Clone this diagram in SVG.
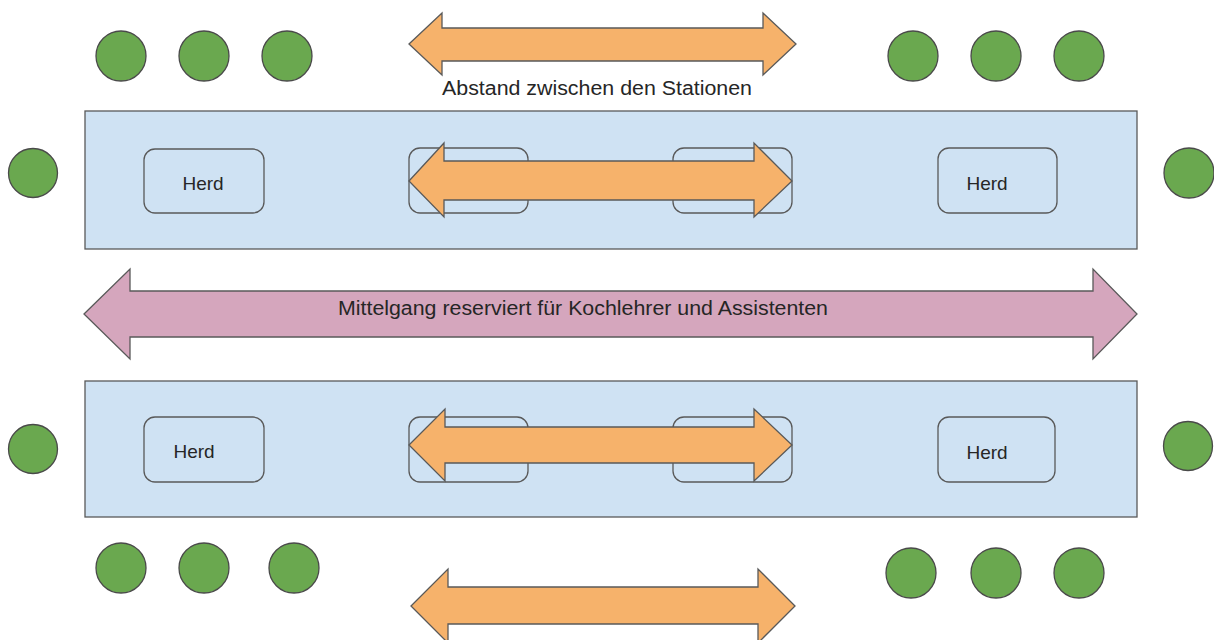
<svg xmlns="http://www.w3.org/2000/svg" width="1214" height="640" viewBox="0 0 1214 640">
<style>
.table{fill:#cfe2f3;stroke:#595959;stroke-width:1.3}
.herd{fill:#cfe2f3;stroke:#595959;stroke-width:1.3}
.seat{fill:#6aa84f;stroke:#4a4a4a;stroke-width:1.3}
.orange{fill:#f6b26b;stroke:#595959;stroke-width:1.3}
.pink{fill:#d5a6bd;stroke:#595959;stroke-width:1.3}
.t{font-family:"Liberation Sans",Arial,sans-serif;fill:#262626;text-anchor:middle}
.th{font-size:19px}
.tl{font-size:20px}
</style>
<rect width="1214" height="640" fill="#ffffff"/>

<g id="table-top">
<rect class="table" x="85" y="111" width="1052" height="138"/>
</g>
<g id="table-bottom">
<rect class="table" x="85" y="381" width="1052" height="136"/>
</g>

<g id="herd-top-left"><rect class="herd" x="144" y="149" width="120" height="64" rx="11"/><text class="t th" x="203" y="190">Herd</text></g>
<g id="herd-top-right"><rect class="herd" x="938" y="148" width="119" height="65" rx="11"/><text class="t th" x="987" y="190">Herd</text></g>
<g id="herd-bottom-left"><rect class="herd" x="144" y="417" width="120" height="65" rx="11"/><text class="t th" x="194" y="458">Herd</text></g>
<g id="herd-bottom-right"><rect class="herd" x="938" y="417" width="117" height="65" rx="11"/><text class="t th" x="987" y="459">Herd</text></g>

<g id="station-top-mid-left"><rect class="herd" x="409" y="148" width="119" height="65" rx="11"/></g>
<g id="station-top-mid-right"><rect class="herd" x="673" y="148" width="119" height="65" rx="11"/></g>
<g id="station-bottom-mid-left"><rect class="herd" x="409" y="417" width="119" height="65" rx="11"/></g>
<g id="station-bottom-mid-right"><rect class="herd" x="673" y="417" width="119" height="65" rx="11"/></g>

<g id="seats">
<circle class="seat" cx="121" cy="56" r="25"/>
<circle class="seat" cx="204" cy="56" r="25"/>
<circle class="seat" cx="287" cy="56" r="25"/>
<circle class="seat" cx="913" cy="56" r="25"/>
<circle class="seat" cx="996" cy="56" r="25"/>
<circle class="seat" cx="1079" cy="56" r="25"/>
<circle class="seat" cx="33" cy="173" r="24.5"/>
<circle class="seat" cx="1189" cy="173" r="25"/>
<circle class="seat" cx="33" cy="449" r="24.5"/>
<circle class="seat" cx="1188" cy="446" r="24.5"/>
<circle class="seat" cx="121" cy="568" r="25"/>
<circle class="seat" cx="204" cy="568" r="25"/>
<circle class="seat" cx="294" cy="568" r="25"/>
<circle class="seat" cx="911" cy="573" r="25"/>
<circle class="seat" cx="996" cy="573" r="25"/>
<circle class="seat" cx="1079" cy="573" r="25"/>
</g>

<g id="connectors">
<g id="arrow-top-distance">
<polygon class="orange" points="409,44 442,13 442,28 763,28 763,13 796,44 763,75 763,61 442,61 442,75"/>
<text class="t tl" x="597" y="95" textLength="310" lengthAdjust="spacingAndGlyphs">Abstand zwischen den Stationen</text>
</g>
<g id="arrow-top-inner">
<polygon class="orange" points="409,181 444,143 444,161 754,161 754,143 792,181 754,217 754,200 444,200 444,217"/>
</g>
<g id="arrow-mittelgang">
<polygon class="pink" points="84,314 130,269 130,291 1093,291 1093,269 1137,314 1093,359 1093,337 130,337 130,359"/>
<text class="t tl" x="583" y="315" textLength="490" lengthAdjust="spacingAndGlyphs">Mittelgang reserviert für Kochlehrer und Assistenten</text>
</g>
<g id="arrow-bottom-inner">
<polygon class="orange" points="409,445 445,409 445,427 754,427 754,409 792,445 754,481 754,463 445,463 445,481"/>
</g>
<g id="arrow-bottom-distance">
<polygon class="orange" points="411,606 448,569 448,587 758,587 758,569 795,606 758,643 758,624 448,624 448,643"/>
</g>
</g>
</svg>
